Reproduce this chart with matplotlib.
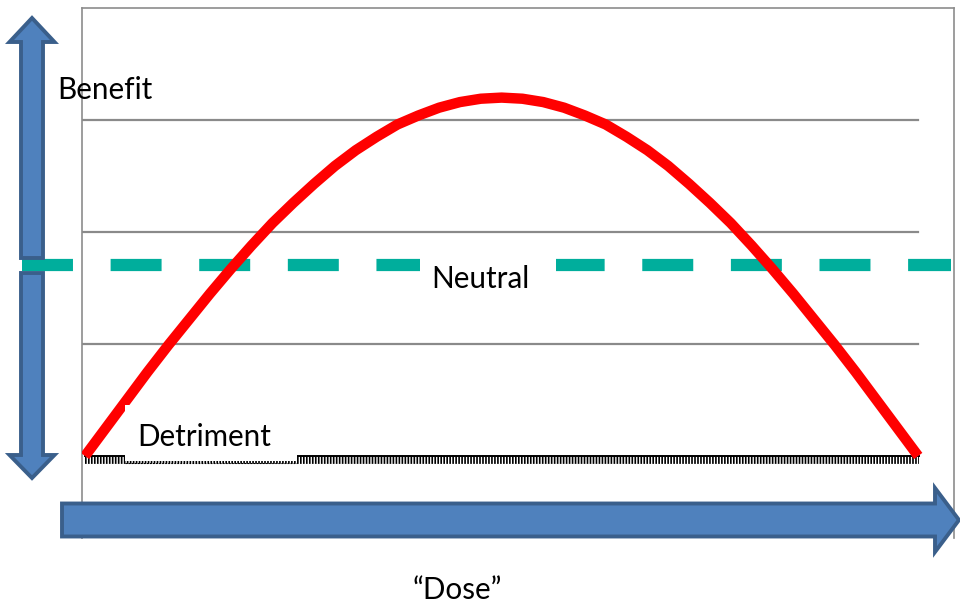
import matplotlib.pyplot as plt
from matplotlib.patches import FancyArrow, Rectangle

plt.rcParams['lines.scale_dashes'] = False
plt.rcParams['font.family'] = ['Lato', 'DejaVu Sans']

# dose (0-100) vs. response (0 = detriment baseline, grid every 1 unit)
dose = [0, 2.5, 5, 7.5, 10, 12.5, 15, 17.5, 20, 22.5, 25, 27.5, 30, 32.5, 35,
        37.5, 40, 42.5, 45, 47.5, 50, 52.5, 55, 57.5, 60, 62.5, 65, 67.5, 70,
        72.5, 75, 77.5, 80, 82.5, 85, 87.5, 90, 92.5, 95, 97.5, 100]
response = [0.00, 0.25, 0.50, 0.75, 0.99, 1.22, 1.45, 1.67, 1.88, 2.08, 2.26,
            2.43, 2.59, 2.73, 2.85, 2.96, 3.04, 3.11, 3.16, 3.19, 3.20,
            3.19, 3.16, 3.11, 3.04, 2.96, 2.85, 2.73, 2.59, 2.43, 2.26,
            2.08, 1.88, 1.67, 1.45, 1.22, 0.99, 0.75, 0.50, 0.25, 0.00]
grid_levels = [1, 2, 3]
neutral_level = 1.705

fig = plt.figure(figsize=(9.6, 6.04), dpi=100)
ax = fig.add_axes([82 / 960, 66 / 604, 872 / 960, 530 / 604])
ax.set_xlim(-0.36, 104.3)
ax.set_ylim(-0.732, 4.0)
ax.set_xticks([])
ax.set_yticks([])
for s in ['left', 'top', 'right']:
    ax.spines[s].set_color('#8c8c8c')
    ax.spines[s].set_linewidth(1.2)
ax.spines['bottom'].set_visible(False)

for g in grid_levels:
    ax.axhline(g, xmin=0, xmax=0.9587, color='#8a8a8a', lw=1.6, zorder=1)

# neutral dashed line (runs out past the box)
ax.axhline(neutral_level, xmin=-0.0688, xmax=0.9966, color='#00AE9C', lw=8.8,
           dashes=(36.7, 27.1), solid_capstyle='butt', dash_capstyle='butt',
           clip_on=False, zorder=2)

# hatched "detriment" baseline
ax.axhline(0, xmin=0.0034, xmax=0.96, color='black', lw=1.4, zorder=2)
ax.axhline(-0.036, xmin=0.0034, xmax=0.96, color='black', lw=5.6,
           dashes=(1.2, 0.95), dash_capstyle='butt', zorder=2)

ax.plot(dose, response, color='#FF0000', lw=7.5, solid_capstyle='butt',
        solid_joinstyle='round', zorder=3)

# white text boxes sitting over the lines
ax.add_patch(Rectangle((4.8, -0.045), 20.65, 0.5, fc='white', ec='none', zorder=4))
ax.add_patch(Rectangle((40.2, 1.39), 16.3, 0.45, fc='white', ec='none', zorder=4))
ax.plot([4.8, 25.45], [-0.0625, -0.0625], color='black', lw=0.8, ls=(0, (1, 1.2)), zorder=5)

# overlay in pixel units for the arrows and labels
ov = fig.add_axes([0, 0, 1, 1], zorder=5)
ov.set_xlim(0, 960)
ov.set_ylim(604, 0)
ov.axis('off')
ov.patch.set_visible(False)

blue, edge = '#4F81BD', '#3A5F8B'
ov.add_patch(FancyArrow(32, 258, 0, -240, width=22, head_width=45, head_length=24,
                        length_includes_head=True, fc=blue, ec=edge, lw=2.8))
ov.add_patch(FancyArrow(32, 273, 0, 205, width=22, head_width=45, head_length=23,
                        length_includes_head=True, fc=blue, ec=edge, lw=2.8))
ov.add_patch(FancyArrow(62, 520, 897, 0, width=33, head_width=64, head_length=24,
                        length_includes_head=True, fc=blue, ec=edge, lw=2.8))

fs = 21.3
ov.text(57, 99, 'Benefit', fontsize=fs, va='baseline', ha='left')
ov.text(431, 288, 'Neutral', fontsize=fs, va='baseline', ha='left')
ov.text(137, 446, 'Detriment', fontsize=fs, va='baseline', ha='left')
ov.text(457, 599, '\u201cDose\u201d', fontsize=fs, va='baseline', ha='center')

fig.savefig('out.png', dpi=100)
